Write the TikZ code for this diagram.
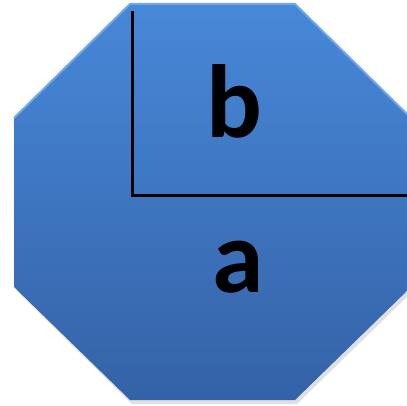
\documentclass[tikz,border=0pt]{standalone}
\usepackage{fontspec}
\setmainfont{Carlito}
\usetikzlibrary{calc}
\definecolor{octtop}{HTML}{4788D8}
\definecolor{octbot}{HTML}{3462A6}
\definecolor{octrim}{HTML}{6FA8EE}
\tikzset{
  splitline/.style={black, line width=3pt},
  letter/.style={font=\fontsize{104}{104}\selectfont\bfseries, text=black, anchor=base, inner sep=0pt}
}
\begin{document}
\begin{tikzpicture}[x=1pt, y=-1pt]
  \useasboundingbox (0,0) rectangle (407,406);
  % octagon with a soft shadow
  \fill[black, opacity=0.12] (132,8) -- (297,8) -- (413,122) -- (413,291) -- (297,404) -- (132,404) -- (17,291) -- (17,122) -- cycle;
  \shade[top color=octtop, bottom color=octbot]
    (130,4) -- (295,4) -- (411,118) -- (411,287) -- (295,400) -- (130,400) -- (14,287) -- (14,118) -- cycle;
  \draw[octrim, line width=2pt, line join=round] (14,118) -- (130,4) -- (295,4) -- (411,118);
  % the two parts
  \coordinate (top) at (132,11);
  \coordinate (corner) at (132,196);
  \coordinate (right) at (412,196);
  \draw[splitline] (top) -- (corner) -- (right);
  \node[letter] (b) at (234,138) {b};
  \node[letter] (a) at (238,292) {a};
\end{tikzpicture}
\end{document}
